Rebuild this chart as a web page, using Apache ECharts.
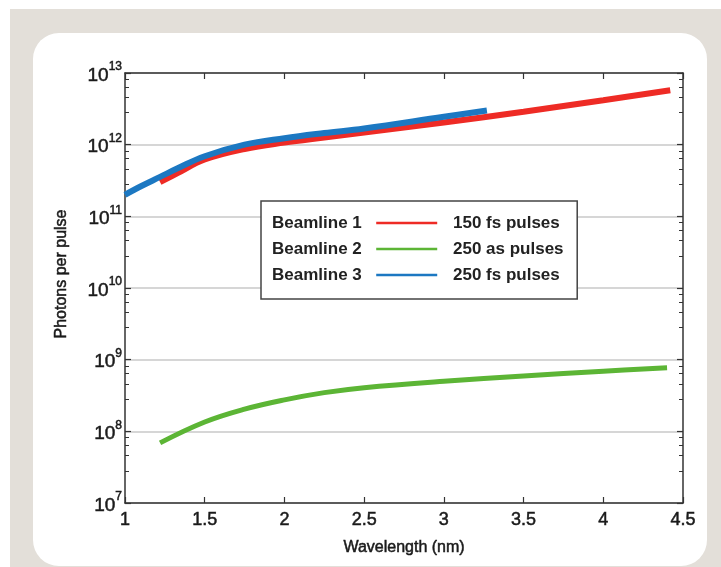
<!DOCTYPE html>
<html>
<head>
<meta charset="utf-8">
<script src="https://cdn.jsdelivr.net/npm/echarts@6/dist/echarts.min.js"></script>
<style>
  html, body { margin: 0; padding: 0; background: #fff; }
  #bg { position: absolute; left: 10px; top: 9px; width: 711px; height: 558px; background: #e3dfd9; }
  #panel { position: absolute; left: 33px; top: 33px; width: 674px; height: 533px; background: #fff; border-radius: 26px; }
  #chart { position: absolute; left: 0; top: 0; width: 721px; height: 567px; }
</style>
</head>
<body>
<div id="bg"></div>
<div id="panel"></div>
<div id="chart"></div>
<script>
// beamline 1 - 150 fs pulses
var wl1 = [1.22, 1.33, 1.5, 1.75, 2.0, 2.25, 2.5, 3.0, 3.5, 4.0, 4.42]
var ph1 = [3.0e11, 4.0e11, 6.2e11, 8.7e11, 1.07e12, 1.26e12, 1.48e12, 2.04e12, 2.88e12, 4.17e12, 5.75e12]
// beamline 2 - 250 as pulses
var wl2 = [1.22, 1.5, 1.75, 2.0, 2.25, 2.5, 3.0, 3.5, 4.0, 4.4]
var ph2 = [6.9e7, 1.35e8, 2.04e8, 2.75e8, 3.47e8, 4.07e8, 5.0e8, 5.9e8, 6.9e8, 7.7e8]
// beamline 3 - 250 fs pulses
var wl3 = [1.0, 1.1, 1.22, 1.33, 1.5, 1.75, 2.0, 2.25, 2.5, 3.0, 3.27]
var ph3 = [2.0e11, 2.63e11, 3.55e11, 4.68e11, 6.9e11, 1.0e12, 1.23e12, 1.45e12, 1.68e12, 2.45e12, 2.99e12]

var names = ['Beamline 1', 'Beamline 2', 'Beamline 3']
var pulses = ['150 fs pulses', '250 as pulses', '250 fs pulses']
var colors = ['#ee2b25', '#5cb535', '#1c78c2']

var sans = "'Liberation Sans', Arial, sans-serif"

function zip(xs, ys) {
  return xs.map(function (x, i) { return [x, ys[i]] })
}

var myChart = echarts.init(document.getElementById('chart'))

var axisLine = { lineStyle: { color: '#333', width: 1.5 } }
var tick = { show: true, inside: true, length: 6, lineStyle: { color: '#333', width: 1.2 } }
var minor = { show: true, splitNumber: 5, length: 4, lineStyle: { color: '#333', width: 1 } }
var legendText = { fontFamily: sans, fontSize: 17, fontWeight: 'bold', color: '#222', lineHeight: 20 }
// a thin stroke in the text colour makes the regular face look a bit heavier
var heavy = { color: '#1a1a1a', textBorderColor: '#1a1a1a', textBorderWidth: 0.5 }

var option = {
  backgroundColor: 'transparent',
  animation: false,
  grid: { left: 125, right: 38, top: 73, bottom: 64 },
  legend: [
    {
      data: names,
      orient: 'vertical',
      align: 'right',
      left: 261,
      top: 201,
      padding: [12, 140, 14, 11],
      itemGap: 6,
      itemWidth: 61,
      itemHeight: 2.5,
      icon: 'rect',
      backgroundColor: '#fff',
      borderColor: '#444',
      borderWidth: 1.5,
      formatter: function (name) { return name + '  ' },
      textStyle: legendText,
      selectedMode: false
    },
    {
      data: names,
      orient: 'vertical',
      left: 448,
      top: 213,
      padding: 0,
      itemGap: 6,
      itemWidth: 0,
      itemHeight: 2,
      icon: 'rect',
      formatter: function (name) { return pulses[names.indexOf(name)] },
      textStyle: legendText,
      selectedMode: false
    }
  ],
  xAxis: [
    {
      type: 'value',
      min: 1,
      max: 4.5,
      interval: 0.5,
      name: 'Wavelength (nm)',
      nameLocation: 'middle',
      nameGap: 37,
      nameTextStyle: Object.assign({ fontFamily: sans, fontSize: 16 }, heavy),
      axisLine: axisLine,
      axisTick: tick,
      splitLine: { show: false },
      axisLabel: Object.assign({ fontFamily: sans, fontSize: 18, margin: 8 }, heavy)
    },
    {
      type: 'value',
      position: 'top',
      min: 1,
      max: 4.5,
      interval: 0.5,
      axisLine: axisLine,
      axisTick: tick,
      splitLine: { show: false },
      axisLabel: { show: false }
    }
  ],
  yAxis: [
    {
      type: 'log',
      logBase: 10,
      min: 1e7,
      max: 1e13,
      splitNumber: 6,
      name: 'Photons per pulse',
      nameLocation: 'middle',
      nameGap: 55,
      nameTextStyle: Object.assign({ fontFamily: sans, fontSize: 16, padding: [0, 0, 0, 28] }, heavy),
      axisLine: Object.assign({ show: true }, axisLine),
      axisTick: tick,
      minorTick: minor,
      splitLine: { show: true, lineStyle: { color: '#c9c9c9', width: 1.5 } },
      axisLabel: {
        margin: 3,
        formatter: function (v) {
          return '{b|10}{s|' + Math.round(Math.log10(v)) + '}'
        },
        rich: {
          b: Object.assign({ fontFamily: sans, fontSize: 19, lineHeight: 24, verticalAlign: 'bottom' }, heavy),
          s: Object.assign({ fontFamily: sans, fontSize: 12, lineHeight: 12, verticalAlign: 'top' }, heavy)
        }
      }
    },
    {
      type: 'log',
      logBase: 10,
      position: 'right',
      min: 1e7,
      max: 1e13,
      splitNumber: 6,
      axisLine: Object.assign({ show: true }, axisLine),
      axisTick: tick,
      minorTick: minor,
      splitLine: { show: false },
      axisLabel: { show: false }
    }
  ],
  series: [
    {
      name: names[0],
      type: 'line',
      data: zip(wl1, ph1),
      smooth: 0.4,
      symbol: 'none',
      color: colors[0],
      lineStyle: { width: 6, color: colors[0] }
    },
    {
      name: names[1],
      type: 'line',
      data: zip(wl2, ph2),
      smooth: 0.4,
      symbol: 'none',
      color: colors[1],
      lineStyle: { width: 5, color: colors[1] }
    },
    {
      name: names[2],
      type: 'line',
      data: zip(wl3, ph3),
      smooth: 0.4,
      symbol: 'none',
      color: colors[2],
      lineStyle: { width: 6, color: colors[2] }
    }
  ]
}

myChart.setOption(option)
</script>
</body>
</html>
